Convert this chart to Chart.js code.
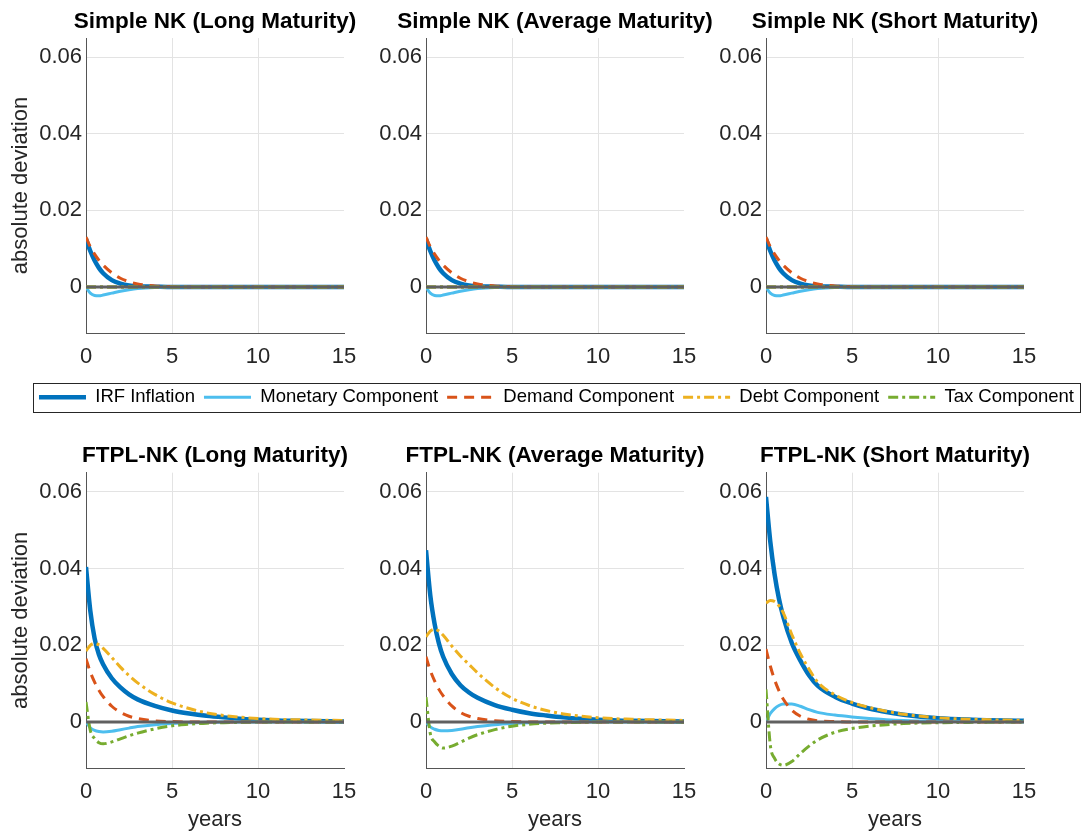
<!DOCTYPE html>
<html>
<head>
<meta charset="utf-8">
<script src="https://cdn.jsdelivr.net/npm/chart.js@4"></script>
<style>
  body { margin: 0; background: #fff; width: 1086px; height: 836px; position: relative; overflow: hidden; }
  canvas { position: absolute; }
  #legendBox { position: absolute; left: 33px; top: 383px; width: 1046px; height: 28px; border: 1px solid #262626; }
</style>
</head>
<body>
<div id="legendBox"></div>
<script>
// time axis in years
const years = [0, 0.25, 0.5, 0.75, 1, 1.5, 2, 2.5, 3, 4, 5, 6, 7, 8, 10, 12, 15];
const seriesNames = ['IRF Inflation', 'Monetary Component', 'Demand Component', 'Debt Component', 'Tax Component'];
const panelTitles = [
    'Simple NK (Long Maturity)', 'Simple NK (Average Maturity)', 'Simple NK (Short Maturity)',
    'FTPL-NK (Long Maturity)', 'FTPL-NK (Average Maturity)', 'FTPL-NK (Short Maturity)'
];
const xTicks = [0, 5, 10, 15];
const yTicks = [0, 0.02, 0.04, 0.06];

// Simple NK (same for all three maturities)
const simpleIrf      = [0.0125, 0.0094, 0.0069, 0.0050, 0.0036, 0.0018, 0.0009, 0.0004, 0.0002, 0.0001, 0, 0, 0, 0, 0, 0, 0];
const simpleMonetary = [0, -0.0016, -0.0022, -0.0023, -0.0021, -0.0016, -0.0011, -0.0007, -0.0004, -0.0001, 0, 0, 0, 0, 0, 0, 0];
const simpleDemand   = [0.0130, 0.0105, 0.0086, 0.0070, 0.0057, 0.0037, 0.0023, 0.0014, 0.0008, 0.0003, 0.0001, 0, 0, 0, 0, 0, 0];
const simpleDebt     = [0, 0, 0, 0, 0, 0, 0, 0, 0, 0, 0, 0, 0, 0, 0, 0, 0];
const simpleTax      = [0, 0, 0, 0, 0, 0, 0, 0, 0, 0, 0, 0, 0, 0, 0, 0, 0];

// FTPL-NK long maturity
const longIrf      = [0.0404, 0.0290, 0.0218, 0.0176, 0.0150, 0.0114, 0.0090, 0.0072, 0.0059, 0.0042, 0.0030, 0.0022, 0.0016, 0.0012, 0.0006, 0.0003, 0.0001];
const longMonetary = [0, -0.0015, -0.0022, -0.0025, -0.0026, -0.0024, -0.0020, -0.0016, -0.0012, -0.0007, -0.0004, -0.0002, -0.0001, 0, 0, 0, 0];
const longDemand   = [0.0165, 0.0130, 0.0104, 0.0083, 0.0066, 0.0041, 0.0025, 0.0015, 0.0009, 0.0003, 0.0001, 0, 0, 0, 0, 0, 0];
const longDebt     = [0.0185, 0.0200, 0.0205, 0.0201, 0.0192, 0.0168, 0.0143, 0.0121, 0.0102, 0.0072, 0.0050, 0.0035, 0.0024, 0.0017, 0.0009, 0.0006, 0.0004];
const longTax      = [0.0052, -0.0022, -0.0043, -0.0054, -0.0057, -0.0052, -0.0044, -0.0036, -0.0029, -0.0018, -0.0010, -0.0006, -0.0003, -0.0002, 0, 0, 0];

// FTPL-NK average maturity
const avgIrf      = [0.0448, 0.0330, 0.0256, 0.0205, 0.0170, 0.0125, 0.0096, 0.0077, 0.0063, 0.0044, 0.0032, 0.0023, 0.0017, 0.0012, 0.0006, 0.0003, 0.0001];
const avgMonetary = [0, -0.0013, -0.0019, -0.0022, -0.0023, -0.0022, -0.0019, -0.0015, -0.0012, -0.0007, -0.0004, -0.0002, -0.0001, 0, 0, 0, 0];
const avgDemand   = [0.0170, 0.0134, 0.0107, 0.0085, 0.0068, 0.0042, 0.0025, 0.0015, 0.0009, 0.0003, 0.0001, 0, 0, 0, 0, 0, 0];
const avgDebt     = [0.0222, 0.0237, 0.0242, 0.0237, 0.0226, 0.0198, 0.0172, 0.0150, 0.0128, 0.0090, 0.0062, 0.0043, 0.0030, 0.0021, 0.0011, 0.0007, 0.0004];
const avgTax      = [0.0065, -0.0030, -0.0052, -0.0063, -0.0068, -0.0063, -0.0053, -0.0042, -0.0033, -0.0020, -0.0011, -0.0006, -0.0003, -0.0002, 0, 0, 0];

// FTPL-NK short maturity
const shortIrf      = [0.0587, 0.0470, 0.0385, 0.0322, 0.0275, 0.0206, 0.0160, 0.0122, 0.0095, 0.0066, 0.0048, 0.0035, 0.0026, 0.0019, 0.0010, 0.0006, 0.0003];
const shortMonetary = [0, 0.0022, 0.0035, 0.0043, 0.0047, 0.0047, 0.0041, 0.0032, 0.0025, 0.0018, 0.0013, 0.0009, 0.0006, 0.0004, 0.0002, 0.0001, 0];
const shortDemand   = [0.0190, 0.0146, 0.0110, 0.0082, 0.0060, 0.0031, 0.0015, 0.0007, 0.0003, 0.0001, 0, 0, 0, 0, 0, 0, 0];
const shortDebt     = [0.0310, 0.0317, 0.0314, 0.0303, 0.0285, 0.0228, 0.0178, 0.0138, 0.0104, 0.0071, 0.0051, 0.0038, 0.0028, 0.0020, 0.0011, 0.0007, 0.0004];
const shortTax      = [0.0085, -0.0060, -0.0095, -0.0109, -0.0113, -0.0103, -0.0082, -0.0063, -0.0047, -0.0027, -0.0017, -0.0011, -0.0007, -0.0004, -0.0002, -0.0001, 0];

const panelSeries = [
    [simpleIrf, simpleMonetary, simpleDemand, simpleDebt, simpleTax],
    [simpleIrf, simpleMonetary, simpleDemand, simpleDebt, simpleTax],
    [simpleIrf, simpleMonetary, simpleDemand, simpleDebt, simpleTax],
    [longIrf, longMonetary, longDemand, longDebt, longTax],
    [avgIrf, avgMonetary, avgDemand, avgDebt, avgTax],
    [shortIrf, shortMonetary, shortDemand, shortDebt, shortTax]
];

const colors = ['#0072BD', '#4DBEEE', '#D95319', '#EDB120', '#77AC30'];
const widths = [4.5, 3, 3, 3, 3];
const dashes = [[], [], [10, 7], [10, 4, 3, 4], [10, 4, 3, 4]];

Chart.defaults.font.family = '"Liberation Sans", Arial, Helvetica, sans-serif';

function makeSets(values) {
    var sets = values.map(function (v, i) {
        return {
            label: seriesNames[i],
            data: years.map(function (x, j) { return { x: x, y: v[j] }; }),
            borderColor: colors[i],
            borderWidth: widths[i],
            borderDash: dashes[i],
            pointRadius: 0,
            cubicInterpolationMode: 'monotone',
            fill: false,
            order: 5 - i
        };
    });
    // zero line on top
    sets.push({
        label: 'zero',
        data: [{ x: 0, y: 0 }, { x: 15, y: 0 }],
        borderColor: '#606060',
        borderWidth: 3,
        pointRadius: 0,
        order: -1
    });
    return sets;
}

function drawPanel(k) {
    var row = Math.floor(k / 3), col = k % 3;
    var cv = document.createElement('canvas');
    cv.width = 430;
    cv.height = row ? 401 : 370;
    cv.style.left = (col * 340) + 'px';
    cv.style.top = (row ? 435 : 0) + 'px';
    document.body.appendChild(cv);

    new Chart(cv, {
        type: 'line',
        data: { datasets: makeSets(panelSeries[k]) },
        options: {
            responsive: false,
            animation: false,
            plugins: {
                legend: { display: false },
                tooltip: { enabled: false },
                title: {
                    display: true,
                    text: panelTitles[k],
                    color: '#000',
                    font: { size: 22.5, weight: 'bold' },
                    padding: row ? { top: 7, bottom: 3.7 } : { top: 8, bottom: 3 }
                }
            },
            scales: {
                x: {
                    type: 'linear',
                    min: 0,
                    max: 15,
                    afterBuildTicks: function (s) { s.ticks = xTicks.map(function (v) { return { value: v }; }); },
                    afterFit: function (s) { s.height = row ? 68 : 37; },
                    ticks: { padding: 11, color: '#262626', font: { size: 22 }, maxRotation: 0 },
                    grid: {
                        drawTicks: false,
                        color: function (c) { return c.tick && c.tick.value === 15 ? 'rgba(0,0,0,0)' : '#e3e3e3'; }
                    },
                    border: { color: '#555', width: 1 },
                    title: {
                        display: row === 1,
                        text: 'years',
                        color: '#262626',
                        font: { size: 22 },
                        padding: { top: 0, bottom: 3 }
                    }
                },
                y: {
                    min: -0.012,
                    max: 0.065,
                    afterBuildTicks: function (s) { s.ticks = yTicks.map(function (v) { return { value: v }; }); },
                    afterFit: function (s) { s.width = 86; },
                    ticks: {
                        padding: 4,
                        color: '#262626',
                        font: { size: 22 },
                        callback: function (v) { return v === 0 ? '0' : v.toFixed(2); }
                    },
                    grid: { drawTicks: false, color: '#e3e3e3' },
                    border: { color: '#555', width: 1 },
                    title: {
                        display: col === 0,
                        text: 'absolute deviation',
                        color: '#262626',
                        font: { size: 22 },
                        padding: { top: 8, bottom: 0 }
                    }
                },
                // empty right-hand spacer so the title centres over the plot
                pad: {
                    axis: 'y',
                    position: 'right',
                    min: 0,
                    max: 1,
                    ticks: { display: false },
                    grid: { display: false },
                    border: { display: false },
                    afterFit: function (s) { s.width = 86; }
                }
            }
        }
    });
}

for (var k = 0; k < 6; k++) drawPanel(k);

// shared legend
var lc = document.createElement('canvas');
lc.width = 1086;
lc.height = 60;
lc.style.left = '0px';
lc.style.top = '379px';
document.body.appendChild(lc);

new Chart(lc, {
    type: 'line',
    data: {
        datasets: seriesNames.map(function (name, i) {
            return { label: name, data: [], borderColor: colors[i], borderWidth: widths[i], borderDash: dashes[i] };
        })
    },
    options: {
        responsive: false,
        animation: false,
        layout: { padding: { left: 27 } },
        scales: { x: { display: false }, y: { display: false } },
        plugins: {
            tooltip: { enabled: false },
            legend: {
                maxHeight: 60,
                labels: {
                    usePointStyle: true,
                    pointStyleWidth: 47,
                    padding: 9,
                    color: '#000',
                    font: { size: 18.5 },
                    generateLabels: function (ch) {
                        return ch.data.datasets.map(function (d, i) {
                            return {
                                text: d.label,
                                fillStyle: d.borderColor,
                                strokeStyle: d.borderColor,
                                fontColor: '#000',
                                lineWidth: d.borderWidth,
                                lineDash: d.borderDash,
                                pointStyle: 'line',
                                hidden: false,
                                datasetIndex: i
                            };
                        });
                    }
                }
            }
        }
    }
});
</script>
</body>
</html>
